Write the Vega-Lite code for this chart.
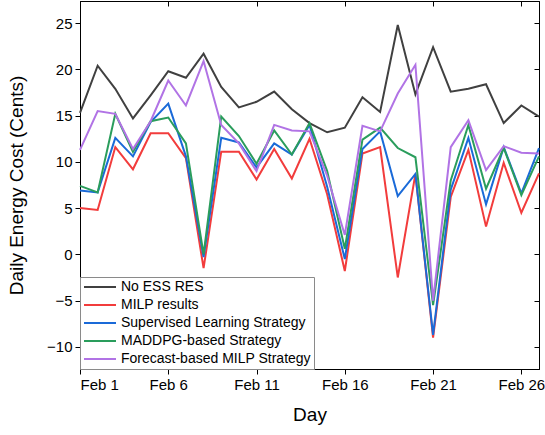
{
  "$schema": "https://vega.github.io/schema/vega-lite/v6.json",
  "autosize": {"type": "none"},
  "padding": {"left": 80, "top": 1, "right": 6, "bottom": 66},
  "width": 459,
  "height": 368,
  "data": {
    "values": [
      {"day": 1, "No ESS RES": 15.3, "MILP results": 5.0, "Supervised Learning Strategy": 6.9, "MADDPG-based Strategy": 7.4, "Forecast-based MILP Strategy": 11.3},
      {"day": 2, "No ESS RES": 20.4, "MILP results": 4.8, "Supervised Learning Strategy": 6.7, "MADDPG-based Strategy": 6.7, "Forecast-based MILP Strategy": 15.5},
      {"day": 3, "No ESS RES": 17.9, "MILP results": 11.6, "Supervised Learning Strategy": 12.6, "MADDPG-based Strategy": 15.2, "Forecast-based MILP Strategy": 15.2},
      {"day": 4, "No ESS RES": 14.7, "MILP results": 9.2, "Supervised Learning Strategy": 10.6, "MADDPG-based Strategy": 11.1, "Forecast-based MILP Strategy": 11.4},
      {"day": 5, "No ESS RES": 17.2, "MILP results": 13.1, "Supervised Learning Strategy": 14.3, "MADDPG-based Strategy": 14.4, "Forecast-based MILP Strategy": 14.4},
      {"day": 6, "No ESS RES": 19.8, "MILP results": 13.1, "Supervised Learning Strategy": 16.3, "MADDPG-based Strategy": 14.8, "Forecast-based MILP Strategy": 18.8},
      {"day": 7, "No ESS RES": 19.1, "MILP results": 10.4, "Supervised Learning Strategy": 10.6, "MADDPG-based Strategy": 12.0, "Forecast-based MILP Strategy": 16.1},
      {"day": 8, "No ESS RES": 21.7, "MILP results": -1.5, "Supervised Learning Strategy": -0.3, "MADDPG-based Strategy": 0.0, "Forecast-based MILP Strategy": 20.9},
      {"day": 9, "No ESS RES": 18.1, "MILP results": 11.1, "Supervised Learning Strategy": 12.6, "MADDPG-based Strategy": 14.9, "Forecast-based MILP Strategy": 14.0},
      {"day": 10, "No ESS RES": 15.9, "MILP results": 11.1, "Supervised Learning Strategy": 12.1, "MADDPG-based Strategy": 12.8, "Forecast-based MILP Strategy": 12.0},
      {"day": 11, "No ESS RES": 16.5, "MILP results": 8.1, "Supervised Learning Strategy": 9.4, "MADDPG-based Strategy": 9.8, "Forecast-based MILP Strategy": 9.0},
      {"day": 12, "No ESS RES": 17.6, "MILP results": 11.4, "Supervised Learning Strategy": 12.0, "MADDPG-based Strategy": 13.4, "Forecast-based MILP Strategy": 14.0},
      {"day": 13, "No ESS RES": 15.7, "MILP results": 8.2, "Supervised Learning Strategy": 10.8, "MADDPG-based Strategy": 10.8, "Forecast-based MILP Strategy": 13.4},
      {"day": 14, "No ESS RES": 14.2, "MILP results": 12.5, "Supervised Learning Strategy": 14.0, "MADDPG-based Strategy": 14.2, "Forecast-based MILP Strategy": 13.3},
      {"day": 15, "No ESS RES": 13.2, "MILP results": 6.5, "Supervised Learning Strategy": 7.3, "MADDPG-based Strategy": 9.0, "Forecast-based MILP Strategy": 8.5},
      {"day": 16, "No ESS RES": 13.7, "MILP results": -1.8, "Supervised Learning Strategy": -0.5, "MADDPG-based Strategy": 0.6, "Forecast-based MILP Strategy": 2.1},
      {"day": 17, "No ESS RES": 17.0, "MILP results": 10.9, "Supervised Learning Strategy": 11.4, "MADDPG-based Strategy": 12.4, "Forecast-based MILP Strategy": 13.9},
      {"day": 18, "No ESS RES": 15.4, "MILP results": 11.6, "Supervised Learning Strategy": 13.3, "MADDPG-based Strategy": 13.7, "Forecast-based MILP Strategy": 13.3},
      {"day": 19, "No ESS RES": 24.8, "MILP results": -2.5, "Supervised Learning Strategy": 6.3, "MADDPG-based Strategy": 11.5, "Forecast-based MILP Strategy": 17.4},
      {"day": 20, "No ESS RES": 17.3, "MILP results": 8.7, "Supervised Learning Strategy": 8.7, "MADDPG-based Strategy": 10.5, "Forecast-based MILP Strategy": 20.5},
      {"day": 21, "No ESS RES": 22.4, "MILP results": -9.0, "Supervised Learning Strategy": -8.7, "MADDPG-based Strategy": -5.5, "Forecast-based MILP Strategy": -5.0},
      {"day": 22, "No ESS RES": 17.6, "MILP results": 6.2, "Supervised Learning Strategy": 7.0, "MADDPG-based Strategy": 8.0, "Forecast-based MILP Strategy": 11.6},
      {"day": 23, "No ESS RES": 17.9, "MILP results": 11.3, "Supervised Learning Strategy": 12.6, "MADDPG-based Strategy": 14.0, "Forecast-based MILP Strategy": 14.5},
      {"day": 24, "No ESS RES": 18.4, "MILP results": 3.0, "Supervised Learning Strategy": 5.4, "MADDPG-based Strategy": 7.1, "Forecast-based MILP Strategy": 9.1},
      {"day": 25, "No ESS RES": 14.2, "MILP results": 9.9, "Supervised Learning Strategy": 11.6, "MADDPG-based Strategy": 11.5, "Forecast-based MILP Strategy": 11.7},
      {"day": 26, "No ESS RES": 16.1, "MILP results": 4.5, "Supervised Learning Strategy": 6.6, "MADDPG-based Strategy": 6.4, "Forecast-based MILP Strategy": 11.0},
      {"day": 27, "No ESS RES": 14.9, "MILP results": 8.75, "Supervised Learning Strategy": 11.5, "MADDPG-based Strategy": 10.6, "Forecast-based MILP Strategy": 10.9}
    ]
  },
  "transform": [
    {"fold": ["No ESS RES", "MILP results", "Supervised Learning Strategy", "MADDPG-based Strategy", "Forecast-based MILP Strategy"], "as": ["series", "cost"]}
  ],
  "layer": [
    {
      "mark": {"type": "line", "strokeWidth": 2},
      "encoding": {
        "x": {
          "field": "day", "type": "quantitative",
          "scale": {"domain": [1, 27], "nice": false, "zero": false},
          "axis": {"values": [1, 6, 11, 16, 21, 26], "labelExpr": "'Feb ' + datum.value", "title": "Day", "tickSize": 5, "labelPadding": 3, "titlePadding": 13}
        },
        "y": {
          "field": "cost", "type": "quantitative",
          "scale": {"domain": [-12.4, 27.4], "nice": false, "zero": false},
          "axis": {"values": [-10, -5, 0, 5, 10, 15, 20, 25], "title": "Daily Energy Cost (Cents)", "tickSize": 5, "labelPadding": 3, "titlePadding": 20}
        },
        "color": {
          "field": "series", "type": "nominal",
          "scale": {
            "domain": ["No ESS RES", "MILP results", "Supervised Learning Strategy", "MADDPG-based Strategy", "Forecast-based MILP Strategy"],
            "range": ["#404040", "#f23c3c", "#1a6ad8", "#2a9d5c", "#b173e5"]
          },
          "legend": {
            "title": null, "orient": "bottom-left", "offset": 0, "padding": 3,
            "fillColor": "white", "strokeColor": "#8a8a8a",
            "symbolType": "stroke", "symbolSize": 1024, "symbolStrokeWidth": 2,
            "labelFontSize": 14, "labelFont": "Liberation Sans", "labelColor": "black", "labelLimit": 0,
            "rowPadding": 4, "clipHeight": 14, "labelOffset": 4
          }
        }
      }
    },
    {
      "mark": {"type": "point", "opacity": 0},
      "encoding": {
        "x": {"field": "day", "type": "quantitative", "axis": {"orient": "top", "values": [1, 6, 11, 16, 21, 26], "labels": false, "title": null, "tickSize": -5, "domain": true}},
        "y": {"field": "cost", "type": "quantitative", "axis": {"orient": "right", "values": [-10, -5, 0, 5, 10, 15, 20, 25], "labels": false, "title": null, "tickSize": -5, "domain": true}}
      }
    }
  ],
  "resolve": {"axis": {"x": "independent", "y": "independent"}},
  "config": {
    "font": "Liberation Sans",
    "view": {"stroke": "black", "strokeWidth": 1},
    "axis": {
      "grid": false, "domainColor": "black", "tickColor": "black", "labelColor": "black", "titleColor": "black",
      "labelFont": "Liberation Sans", "titleFont": "Liberation Sans", "labelFontSize": 15, "titleFontSize": 19, "titleFontWeight": "normal",
      "domainWidth": 1, "tickWidth": 1
    }
  }
}
